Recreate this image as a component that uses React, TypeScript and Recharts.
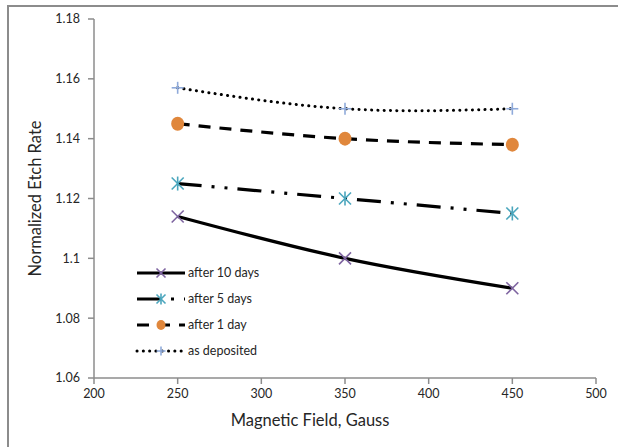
import React from 'react';
import { LineChart, Line, XAxis, YAxis } from 'recharts';

// Magnetic field (Gauss) and the normalized etch rate at each field
const fields = [250, 350, 450];
const after10Days = [1.114, 1.1, 1.09];
const after5Days = [1.125, 1.12, 1.115];
const after1Day = [1.145, 1.14, 1.138];
const asDeposited = [1.157, 1.15, 1.15];

const xTicks = [200, 250, 300, 350, 400, 450, 500];
const yTicks = [1.06, 1.08, 1.1, 1.12, 1.14, 1.16, 1.18];

const rows = fields.map((f, i) => ({
  field: f,
  d10: after10Days[i],
  d5: after5Days[i],
  d1: after1Day[i],
  dep: asDeposited[i],
}));

const FONT = 'Lato, "Open Sans", sans-serif';
const AXIS_GREY = '#8c8c8c';
const TEXT = '#262626';

type MarkerKind = 'x' | 'star' | 'circle' | 'plus';

const markerColor: Record<MarkerKind, string> = {
  x: '#7E64A0',
  star: '#4BA6BD',
  circle: '#E0873C',
  plus: '#8FAADA',
};

function Marker({ kind, cx, cy, s }: { kind: MarkerKind; cx: number; cy: number; s: number }) {
  const c = markerColor[kind];
  if (kind === 'circle') {
    return <ellipse cx={cx} cy={cy} rx={s + 0.5} ry={s + 1} fill={c} />;
  }
  if (kind === 'x') {
    return (
      <g stroke={c} strokeWidth={1.6}>
        <line x1={cx - s} y1={cy - s} x2={cx + s} y2={cy + s} />
        <line x1={cx - s} y1={cy + s} x2={cx + s} y2={cy - s} />
      </g>
    );
  }
  if (kind === 'star') {
    return (
      <g stroke={c} strokeWidth={1.6}>
        <line x1={cx - s} y1={cy - s} x2={cx + s} y2={cy + s} />
        <line x1={cx - s} y1={cy + s} x2={cx + s} y2={cy - s} />
        <line x1={cx} y1={cy - s - 1} x2={cx} y2={cy + s + 1} />
      </g>
    );
  }
  return (
    <g stroke={c} strokeWidth={1.6}>
      <line x1={cx - s} y1={cy} x2={cx + s} y2={cy} />
      <line x1={cx} y1={cy - s} x2={cx} y2={cy + s} />
    </g>
  );
}

const makeDot = (kind: MarkerKind) => (props: any) => {
  const { cx, cy, index } = props;
  if (cx == null || cy == null) return <g key={index} />;
  return <Marker key={index} kind={kind} cx={cx} cy={cy} s={6} />;
};

const series = [
  { key: 'd10', name: 'after 10 days', kind: 'x' as MarkerKind, dash: undefined as string | undefined, width: 3.2, cap: 'butt' },
  { key: 'd5', name: 'after 5 days', kind: 'star' as MarkerKind, dash: '24 10 3 10 3 10', width: 3.2, cap: 'butt' },
  { key: 'd1', name: 'after 1 day', kind: 'circle' as MarkerKind, dash: '12 9', width: 3.2, cap: 'butt' },
  { key: 'dep', name: 'as deposited', kind: 'plus' as MarkerKind, dash: '0.1 6.2', width: 3, cap: 'round' },
];

function LegendBox() {
  return (
    <div
      style={{
        position: 'absolute',
        left: 134,
        top: 260,
        fontFamily: FONT,
        fontSize: 12.5,
        color: TEXT,
        lineHeight: '26px',
      }}
    >
      {series.map((s) => (
        <div key={s.key} style={{ display: 'flex', alignItems: 'center', height: 26 }}>
          <svg width={52} height={26} style={{ display: 'block' }}>
            <line
              x1={3}
              y1={13}
              x2={51}
              y2={13}
              stroke="#000"
              strokeWidth={s.width}
              strokeDasharray={s.dash}
              strokeLinecap={s.cap as any}
            />
            <Marker kind={s.kind} cx={27} cy={13} s={s.kind === 'circle' ? 4 : 4.5} />
          </svg>
          <span style={{ marginLeft: 2, whiteSpace: 'nowrap' }}>{s.name}</span>
        </div>
      ))}
    </div>
  );
}

export default function App() {
  return (
    <div style={{ position: 'absolute', left: 0, top: 0, width: 618, height: 447, background: '#fff' }}>
      <div
        style={{
          position: 'absolute',
          left: 7,
          top: 5,
          width: 640,
          height: 480,
          borderLeft: `2px solid ${AXIS_GREY}`,
          borderTop: `2px solid ${AXIS_GREY}`,
          boxSizing: 'border-box',
        }}
      />
      <LineChart
        width={618}
        height={447}
        data={rows}
        margin={{ top: 19, right: 22, bottom: 0, left: 0 }}
        style={{ position: 'absolute', left: 0, top: 0 }}
      >
        <XAxis
          dataKey="field"
          type="number"
          domain={[200, 500]}
          ticks={xTicks}
          interval={0}
          height={69}
          stroke={AXIS_GREY}
          strokeWidth={1.5}
          tickSize={6}
          tickMargin={5}
          tick={{ fill: TEXT, fontSize: 12.5, fontFamily: FONT }}
          label={{
            content: (p: any) => {
              const vb = p.viewBox;
              return (
                <text
                  x={310}
                  y={vb.y + 48}
                  textAnchor="middle"
                  fontFamily={FONT}
                  fontSize={16.5}
                  fill={TEXT}
                >
                  Magnetic Field, Gauss
                </text>
              );
            },
          }}
        />
        <YAxis
          type="number"
          domain={[1.06, 1.18]}
          ticks={yTicks}
          interval={0}
          width={94}
          stroke={AXIS_GREY}
          strokeWidth={1.5}
          tickSize={6}
          tickMargin={8}
          tick={{ fill: TEXT, fontSize: 12.5, fontFamily: FONT }}
          label={{
            content: (p: any) => {
              const vb = p.viewBox;
              const cx = vb.x + 35;
              const cy = vb.y + vb.height / 2;
              return (
                <text
                  x={cx}
                  y={cy}
                  transform={`rotate(-90 ${cx} ${cy})`}
                  textAnchor="middle"
                  dominantBaseline="central"
                  fontFamily={FONT}
                  fontSize={16.5}
                  fill={TEXT}
                >
                  Normalized Etch Rate
                </text>
              );
            },
          }}
        />
        {series.map((s) => (
          <Line
            key={s.key}
            dataKey={s.key}
            name={s.name}
            type="natural"
            stroke="#000"
            strokeWidth={s.width}
            strokeDasharray={s.dash}
            strokeLinecap={s.cap as any}
            dot={makeDot(s.kind)}
            activeDot={false}
            isAnimationActive={false}
          />
        ))}
      </LineChart>
      <LegendBox />
    </div>
  );
}
